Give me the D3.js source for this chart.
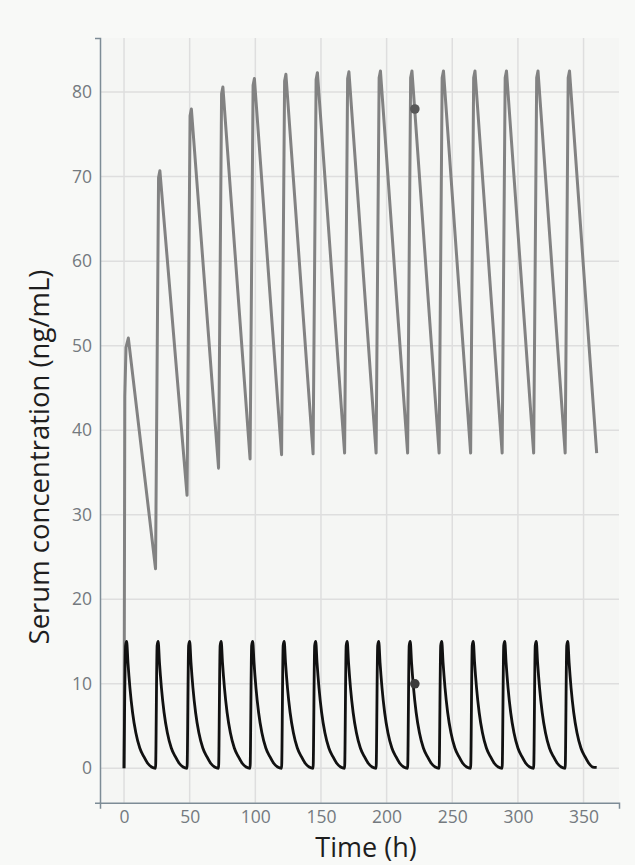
<!DOCTYPE html>
<html>
<head>
<meta charset="utf-8">
<script src="https://cdn.jsdelivr.net/npm/d3@7"></script>
<style>
  html, body { margin: 0; padding: 0; background: #f8f9f7; }
  svg { display: block; }
  text { font-family: "Open Sans", "Noto Sans", sans-serif; }
</style>
</head>
<body>
<svg id="chart" width="635" height="865"></svg>
<script>
// ---- Data ----
const xTicks = [0, 50, 100, 150, 200, 250, 300, 350];
const yTicks = [0, 10, 20, 30, 40, 50, 60, 70, 80];
const xLabel = "Time (h)";
const yLabel = "Serum concentration (ng/mL)";

// Gray series: long half-life drug, time (h) and concentration (ng/mL)
const grayTime = [
  0, 0.6, 1.5, 3.3,
  24, 26.3, 27.3,
  48, 50.3, 51.3,
  72, 74.3, 75.3,
  96, 98.3, 99.3,
  120, 122.3, 123.3,
  144, 146.3, 147.3,
  168, 170.3, 171.3,
  192, 194.3, 195.3,
  216, 218.3, 219.3,
  240, 242.3, 243.3,
  264, 266.3, 267.3,
  288, 290.3, 291.3,
  312, 314.3, 315.3,
  336, 338.3, 339.3,
  360
];
const grayConc = [
  0, 44.0, 49.8, 50.9,
  23.6, 69.9, 70.7,
  32.3, 77.2, 78.0,
  35.5, 79.8, 80.6,
  36.6, 80.8, 81.6,
  37.1, 81.3, 82.1,
  37.2, 81.5, 82.3,
  37.3, 81.6, 82.4,
  37.3, 81.7, 82.5,
  37.3, 81.7, 82.5,
  37.3, 81.7, 82.5,
  37.3, 81.7, 82.5,
  37.3, 81.7, 82.5,
  37.3, 81.7, 82.5,
  37.3, 81.7, 82.5,
  37.3
];

// Black series: short half-life drug
const blackTime = [
  0, 1.2, 2, 3, 4.5, 6.5, 9, 12, 15, 18, 21,
  24, 25.2, 26, 27, 28.5, 30.5, 33, 36, 39, 42, 45,
  48, 49.2, 50, 51, 52.5, 54.5, 57, 60, 63, 66, 69,
  72, 73.2, 74, 75, 76.5, 78.5, 81, 84, 87, 90, 93,
  96, 97.2, 98, 99, 100.5, 102.5, 105, 108, 111, 114, 117,
  120, 121.2, 122, 123, 124.5, 126.5, 129, 132, 135, 138, 141,
  144, 145.2, 146, 147, 148.5, 150.5, 153, 156, 159, 162, 165,
  168, 169.2, 170, 171, 172.5, 174.5, 177, 180, 183, 186, 189,
  192, 193.2, 194, 195, 196.5, 198.5, 201, 204, 207, 210, 213,
  216, 217.2, 218, 219, 220.5, 222.5, 225, 228, 231, 234, 237,
  240, 241.2, 242, 243, 244.5, 246.5, 249, 252, 255, 258, 261,
  264, 265.2, 266, 267, 268.5, 270.5, 273, 276, 279, 282, 285,
  288, 289.2, 290, 291, 292.5, 294.5, 297, 300, 303, 306, 309,
  312, 313.2, 314, 315, 316.5, 318.5, 321, 324, 327, 330, 333,
  336, 337.2, 338, 339, 340.5, 342.5, 345, 348, 351, 354, 357,
  360
];
const blackConc = [
  0, 14.5, 15, 12.5, 9.5, 6.6, 4.2, 2.4, 1.4, 0.6, 0.15,
  0, 14.5, 15, 12.5, 9.5, 6.6, 4.2, 2.4, 1.4, 0.6, 0.15,
  0, 14.5, 15, 12.5, 9.5, 6.6, 4.2, 2.4, 1.4, 0.6, 0.15,
  0, 14.5, 15, 12.5, 9.5, 6.6, 4.2, 2.4, 1.4, 0.6, 0.15,
  0, 14.5, 15, 12.5, 9.5, 6.6, 4.2, 2.4, 1.4, 0.6, 0.15,
  0, 14.5, 15, 12.5, 9.5, 6.6, 4.2, 2.4, 1.4, 0.6, 0.15,
  0, 14.5, 15, 12.5, 9.5, 6.6, 4.2, 2.4, 1.4, 0.6, 0.15,
  0, 14.5, 15, 12.5, 9.5, 6.6, 4.2, 2.4, 1.4, 0.6, 0.15,
  0, 14.5, 15, 12.5, 9.5, 6.6, 4.2, 2.4, 1.4, 0.6, 0.15,
  0, 14.5, 15, 12.5, 9.5, 6.6, 4.2, 2.4, 1.4, 0.6, 0.15,
  0, 14.5, 15, 12.5, 9.5, 6.6, 4.2, 2.4, 1.4, 0.6, 0.15,
  0, 14.5, 15, 12.5, 9.5, 6.6, 4.2, 2.4, 1.4, 0.6, 0.15,
  0, 14.5, 15, 12.5, 9.5, 6.6, 4.2, 2.4, 1.4, 0.6, 0.15,
  0, 14.5, 15, 12.5, 9.5, 6.6, 4.2, 2.4, 1.4, 0.6, 0.15,
  0, 14.5, 15, 12.5, 9.5, 6.6, 4.2, 2.4, 1.4, 0.6, 0.15,
  0.1
];

// Highlighted points
const markerTime = [221.5, 221.5];
const markerConc = [78, 10];
const markerColor = ["#585858", "#3c3c3c"];

// ---- Drawing ----
const svg = d3.select("#chart");
const panel = { left: 100, right: 619, top: 38, bottom: 802.7 };

const x = d3.scaleLinear().domain([-18.3, 377]).range([panel.left, panel.right]);
const y = d3.scaleLinear().domain([-4.07, 86.4]).range([panel.bottom, panel.top]);

svg.append("rect")
  .attr("x", panel.left).attr("y", panel.top)
  .attr("width", panel.right - panel.left)
  .attr("height", panel.bottom - panel.top)
  .attr("fill", "#f5f6f4");

// gridlines
svg.append("g").selectAll("line").data(xTicks).join("line")
  .attr("x1", d => x(d)).attr("x2", d => x(d))
  .attr("y1", panel.top).attr("y2", panel.bottom)
  .attr("stroke", "#dedede").attr("stroke-width", 1.5);
svg.append("g").selectAll("line").data(yTicks).join("line")
  .attr("y1", d => y(d)).attr("y2", d => y(d))
  .attr("x1", panel.left).attr("x2", panel.right)
  .attr("stroke", "#dedede").attr("stroke-width", 1.5);

// axes
const xAxis = d3.axisBottom(x).tickValues(xTicks).tickSizeInner(0).tickSizeOuter(6).tickPadding(8);
const yAxis = d3.axisLeft(y).tickValues(yTicks).tickSizeInner(0).tickSizeOuter(5).tickPadding(8);

const gx = svg.append("g").attr("transform", `translate(0,${panel.bottom})`).call(xAxis);
const gy = svg.append("g").attr("transform", `translate(${panel.left},0)`).call(yAxis);
[gx, gy].forEach(g => {
  g.select(".domain").attr("stroke", "#7d8c96").attr("stroke-width", 1.5);
  g.selectAll(".tick text").attr("fill", "#747a7f").style("font-size", "17.5px")
   .style("font-family", "'Open Sans', 'Noto Sans', sans-serif");
});

// lines
const grayData = grayTime.map((t, i) => [t, grayConc[i]]);
const blackData = blackTime.map((t, i) => [t, blackConc[i]]);

svg.append("path").datum(grayData)
  .attr("fill", "none").attr("stroke", "#828282").attr("stroke-width", 3)
  .attr("stroke-linejoin", "round")
  .attr("d", d3.line().x(d => x(d[0])).y(d => y(d[1])).curve(d3.curveLinear));

svg.append("path").datum(blackData)
  .attr("fill", "none").attr("stroke", "#111111").attr("stroke-width", 2.8)
  .attr("stroke-linejoin", "round")
  .attr("d", d3.line().x(d => x(d[0])).y(d => y(d[1])).curve(d3.curveMonotoneX));

// markers
svg.append("g").selectAll("circle").data(markerTime).join("circle")
  .attr("cx", d => x(d)).attr("cy", (d, i) => y(markerConc[i]))
  .attr("r", 4.8).attr("fill", (d, i) => markerColor[i]);

// axis titles
svg.append("text")
  .attr("x", 366).attr("y", 857)
  .attr("text-anchor", "middle")
  .attr("fill", "#1e1e1e").style("font-size", "27px")
  .text(xLabel);

svg.append("text")
  .attr("transform", "translate(49,457) rotate(-90)")
  .attr("text-anchor", "middle")
  .attr("fill", "#1e1e1e").style("font-size", "27.5px")
  .text(yLabel);
</script>
</body>
</html>
